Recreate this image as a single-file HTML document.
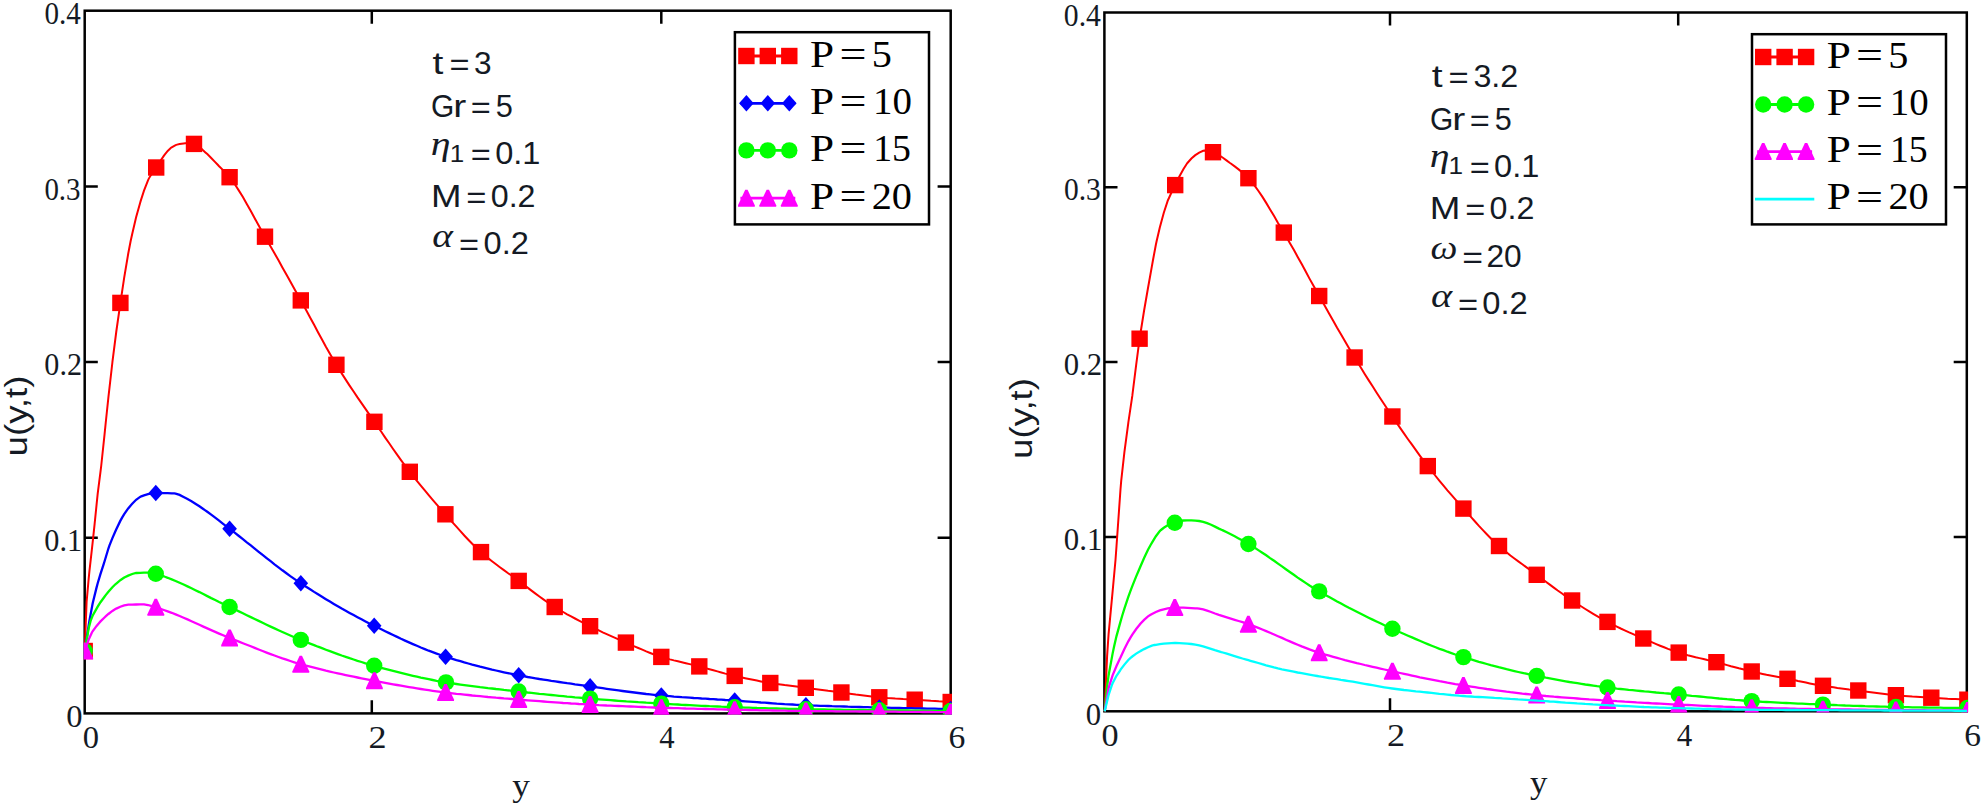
<!DOCTYPE html>
<html lang="en"><head><meta charset="utf-8"><title>u(y,t) velocity profiles</title>
<style>
html,body{margin:0;padding:0;background:#fff}
body{width:1982px;height:806px;overflow:hidden}
svg{display:block}
text{white-space:pre}
</style></head>
<body>
<svg width="1982" height="806" viewBox="0 0 1982 806">
<rect width="1982" height="806" fill="#fff"/>
<defs><clipPath id="cl"><rect x="83.45" y="9.45" width="868.5" height="705.2"/></clipPath><clipPath id="cr"><rect x="1103.15" y="11.25" width="864.9" height="701.3"/></clipPath></defs>
<rect x="84.7" y="10.7" width="866.0" height="702.7" fill="none" stroke="#000" stroke-width="2.5"/><path d="M371.8,713.4 v-13.1 M371.8,10.7 v13.1 M661.3,713.4 v-13.1 M661.3,10.7 v13.1 M84.7,537.7 h13.1 M950.7,537.7 h-13.1 M84.7,362.1 h13.1 M950.7,362.1 h-13.1 M84.7,186.6 h13.1 M950.7,186.6 h-13.1 " stroke="#000" stroke-width="2.5" fill="none"/>
<g clip-path="url(#cl)"><path d="M84.7,651.0 L86.6,602.0 L88.7,578.4 L89.4,571.4 L91.8,550.2 L92.6,542.8 L94.6,524.2 L96.6,504.4 L97.7,493.6 L100.5,471.6 L101.2,466.0 L104.5,434.8 L105.7,423.0 L108.4,397.4 L112.4,362.3 L112.4,362.1 L116.3,331.5 L120.3,303.6 L120.4,302.9 L124.2,277.6 L128.2,253.8 L130.6,241.3 L132.2,234.0 L136.1,217.3 L140.1,203.0 L140.7,200.9 L144.0,190.6 L148.0,180.3 L148.8,178.6 L151.9,173.5 L155.9,168.0 L156.2,167.5 L159.8,161.8 L163.8,155.9 L164.9,154.4 L167.7,150.9 L171.0,147.8 L171.7,147.3 L175.6,145.1 L177.1,144.6 L179.6,144.0 L183.6,143.4 L185.2,143.3 L187.5,143.3 L191.5,143.6 L194.0,143.9 L195.4,144.3 L199.4,146.8 L203.3,150.5 L205.4,152.4 L207.3,154.1 L211.2,158.0 L215.2,162.1 L217.5,164.5 L219.1,166.2 L223.1,170.1 L227.1,174.2 L229.6,177.2 L231.0,179.0 L235.0,184.5 L238.9,190.6 L242.9,197.1 L246.8,204.0 L250.8,211.1 L254.7,218.3 L258.7,225.5 L262.6,232.6 L265.0,236.7 L266.6,239.5 L270.6,246.4 L274.5,253.3 L278.5,260.3 L282.4,267.4 L286.4,274.5 L290.3,281.6 L294.3,288.7 L298.2,295.8 L300.8,300.4 L302.2,302.9 L306.1,310.1 L310.1,317.4 L314.1,324.8 L318.0,332.2 L322.0,339.5 L325.9,346.7 L329.9,353.7 L333.8,360.5 L336.4,364.8 L337.8,367.0 L341.7,373.4 L345.7,379.6 L349.6,385.6 L353.6,391.5 L357.5,397.4 L361.5,403.1 L365.5,408.9 L369.4,414.6 L373.4,420.3 L374.4,421.8 L377.3,426.1 L381.3,431.8 L385.2,437.6 L389.2,443.3 L393.1,449.0 L397.1,454.6 L401.0,460.1 L405.0,465.5 L409.0,470.7 L409.8,471.8 L412.9,475.8 L416.9,480.8 L420.8,485.6 L424.8,490.4 L428.7,495.1 L432.7,499.8 L436.6,504.3 L440.6,508.9 L444.5,513.3 L445.4,514.3 L448.5,517.8 L452.5,522.3 L456.4,526.7 L460.4,531.1 L464.3,535.5 L468.3,539.7 L472.2,543.7 L476.2,547.6 L480.1,551.3 L481.0,552.1 L484.1,554.8 L488.0,558.1 L492.0,561.2 L496.0,564.3 L499.9,567.2 L503.9,570.1 L507.8,573.0 L511.8,575.8 L515.7,578.7 L518.7,580.9 L519.7,581.6 L523.6,584.6 L527.6,587.6 L531.5,590.6 L535.5,593.6 L539.4,596.5 L543.4,599.4 L547.4,602.2 L551.3,604.8 L554.7,607.0 L555.3,607.4 L559.2,609.7 L563.2,612.0 L567.1,614.3 L571.1,616.4 L575.0,618.5 L579.0,620.6 L582.9,622.6 L586.9,624.6 L590.1,626.2 L590.9,626.6 L594.8,628.5 L598.8,630.4 L602.7,632.3 L606.7,634.1 L610.6,635.9 L614.6,637.7 L618.5,639.4 L622.5,641.1 L625.9,642.6 L626.4,642.8 L630.4,644.6 L634.4,646.3 L638.3,648.0 L642.3,649.7 L646.2,651.4 L650.2,653.0 L654.1,654.5 L658.1,655.9 L661.3,656.9 L662.0,657.1 L666.0,658.3 L669.9,659.4 L673.9,660.4 L677.9,661.3 L681.8,662.2 L685.8,663.2 L689.7,664.1 L693.7,665.0 L697.6,666.0 L699.3,666.4 L701.6,667.0 L705.5,668.1 L709.5,669.2 L713.4,670.3 L717.4,671.4 L721.3,672.5 L725.3,673.6 L729.3,674.6 L733.2,675.6 L734.7,675.9 L737.2,676.5 L741.1,677.3 L745.1,678.2 L749.0,679.0 L753.0,679.8 L756.9,680.6 L760.9,681.4 L764.8,682.1 L768.8,682.8 L770.3,683.0 L772.8,683.4 L776.7,684.0 L780.7,684.5 L784.6,685.1 L788.6,685.6 L792.5,686.1 L796.5,686.6 L800.4,687.1 L804.4,687.6 L805.8,687.8 L808.3,688.1 L812.3,688.7 L816.3,689.2 L820.2,689.7 L824.2,690.2 L828.1,690.8 L832.1,691.3 L836.0,691.8 L840.0,692.3 L841.4,692.5 L843.9,692.8 L847.9,693.4 L851.8,693.9 L855.8,694.5 L859.8,695.0 L863.7,695.5 L867.7,696.0 L871.6,696.5 L875.6,696.9 L879.3,697.3 L879.5,697.3 L883.5,697.6 L887.4,698.0 L891.4,698.2 L895.3,698.5 L899.3,698.7 L903.2,699.0 L907.2,699.2 L911.2,699.5 L914.7,699.7 L915.1,699.7 L919.1,700.0 L923.0,700.2 L927.0,700.5 L930.9,700.8 L934.9,701.0 L938.8,701.3 L942.8,701.5 L946.7,701.8 L950.7,702.0" stroke="#ff0000" stroke-width="2.0" fill="none"/><rect x="76.5" y="642.8" width="16.4" height="16.4" fill="#ff0000"/><rect x="112.2" y="294.7" width="16.4" height="16.4" fill="#ff0000"/><rect x="148.0" y="159.3" width="16.4" height="16.4" fill="#ff0000"/><rect x="185.8" y="135.7" width="16.4" height="16.4" fill="#ff0000"/><rect x="221.4" y="169.0" width="16.4" height="16.4" fill="#ff0000"/><rect x="256.8" y="228.5" width="16.4" height="16.4" fill="#ff0000"/><rect x="292.6" y="292.2" width="16.4" height="16.4" fill="#ff0000"/><rect x="328.2" y="356.6" width="16.4" height="16.4" fill="#ff0000"/><rect x="366.2" y="413.6" width="16.4" height="16.4" fill="#ff0000"/><rect x="401.6" y="463.6" width="16.4" height="16.4" fill="#ff0000"/><rect x="437.2" y="506.1" width="16.4" height="16.4" fill="#ff0000"/><rect x="472.8" y="543.9" width="16.4" height="16.4" fill="#ff0000"/><rect x="510.5" y="572.7" width="16.4" height="16.4" fill="#ff0000"/><rect x="546.5" y="598.8" width="16.4" height="16.4" fill="#ff0000"/><rect x="581.9" y="618.0" width="16.4" height="16.4" fill="#ff0000"/><rect x="617.7" y="634.4" width="16.4" height="16.4" fill="#ff0000"/><rect x="653.1" y="648.7" width="16.4" height="16.4" fill="#ff0000"/><rect x="691.1" y="658.2" width="16.4" height="16.4" fill="#ff0000"/><rect x="726.5" y="667.7" width="16.4" height="16.4" fill="#ff0000"/><rect x="762.1" y="674.8" width="16.4" height="16.4" fill="#ff0000"/><rect x="797.6" y="679.6" width="16.4" height="16.4" fill="#ff0000"/><rect x="833.2" y="684.3" width="16.4" height="16.4" fill="#ff0000"/><rect x="871.1" y="689.1" width="16.4" height="16.4" fill="#ff0000"/><rect x="906.5" y="691.5" width="16.4" height="16.4" fill="#ff0000"/><rect x="942.5" y="693.8" width="16.4" height="16.4" fill="#ff0000"/><path d="M84.7,651.0 L88.7,625.3 L89.4,620.9 L92.6,603.8 L93.0,602.0 L96.6,587.4 L97.7,583.2 L100.5,573.9 L103.6,564.3 L104.5,561.5 L108.4,548.5 L109.5,545.4 L112.4,538.1 L115.4,531.3 L116.3,529.2 L120.3,520.9 L122.4,517.1 L124.2,514.1 L128.2,508.4 L130.7,505.4 L132.2,503.8 L136.1,499.8 L140.1,496.9 L141.3,496.3 L144.0,495.3 L148.0,494.1 L151.9,493.3 L155.8,493.0 L155.9,493.0 L159.8,493.0 L163.8,493.1 L167.7,493.2 L171.7,493.3 L174.3,493.4 L175.6,493.6 L179.6,494.9 L183.6,497.0 L186.1,498.3 L187.5,499.0 L191.5,501.2 L195.4,503.7 L199.4,506.3 L203.3,509.0 L204.9,510.1 L207.3,511.8 L211.2,514.6 L215.2,517.6 L219.1,520.7 L223.1,523.8 L227.1,526.8 L229.6,528.8 L231.0,529.9 L235.0,532.9 L238.9,536.0 L242.9,539.1 L246.8,542.3 L250.8,545.4 L254.7,548.6 L258.7,551.8 L262.6,554.9 L266.6,558.1 L270.6,561.2 L274.5,564.3 L278.5,567.3 L282.4,570.3 L286.4,573.2 L290.3,576.1 L294.3,578.9 L298.2,581.6 L300.8,583.3 L302.2,584.2 L306.1,586.8 L310.1,589.3 L314.1,591.9 L318.0,594.3 L322.0,596.8 L325.9,599.2 L329.9,601.6 L333.8,603.9 L337.8,606.2 L341.7,608.5 L345.7,610.7 L349.6,612.9 L353.6,615.1 L357.5,617.2 L361.5,619.3 L365.5,621.4 L369.4,623.4 L373.4,625.4 L374.2,625.8 L377.3,627.3 L381.3,629.3 L385.2,631.2 L389.2,633.1 L393.1,635.0 L397.1,636.9 L401.0,638.8 L405.0,640.6 L409.0,642.4 L412.9,644.1 L416.9,645.8 L420.8,647.5 L424.8,649.1 L428.7,650.7 L432.7,652.2 L436.6,653.6 L440.6,655.0 L444.5,656.4 L445.6,656.7 L448.5,657.6 L452.5,658.9 L456.4,660.1 L460.4,661.2 L464.3,662.4 L468.3,663.5 L472.2,664.6 L476.2,665.6 L480.1,666.7 L484.1,667.7 L488.0,668.6 L492.0,669.6 L496.0,670.5 L499.9,671.4 L503.9,672.3 L507.8,673.1 L511.8,673.9 L515.7,674.7 L518.7,675.3 L519.7,675.5 L523.6,676.2 L527.6,677.0 L531.5,677.6 L535.5,678.3 L539.4,679.0 L543.4,679.6 L547.4,680.2 L551.3,680.9 L555.3,681.4 L559.2,682.0 L563.2,682.6 L567.1,683.2 L571.1,683.7 L575.0,684.3 L579.0,684.8 L582.9,685.4 L586.9,686.0 L590.1,686.4 L590.9,686.5 L594.8,687.1 L598.8,687.6 L602.7,688.2 L606.7,688.8 L610.6,689.3 L614.6,689.9 L618.5,690.4 L622.5,691.0 L626.4,691.5 L630.4,692.0 L634.4,692.5 L638.3,693.0 L642.3,693.5 L646.2,694.0 L650.2,694.4 L654.1,694.8 L658.1,695.2 L661.3,695.5 L662.0,695.6 L666.0,695.9 L669.9,696.2 L673.9,696.6 L677.9,696.9 L681.8,697.2 L685.8,697.4 L689.7,697.7 L693.7,698.0 L697.6,698.2 L701.6,698.5 L705.5,698.7 L709.5,699.0 L713.4,699.2 L717.4,699.5 L721.3,699.7 L725.3,700.0 L729.3,700.2 L733.2,700.5 L734.7,700.6 L737.2,700.8 L741.1,701.0 L745.1,701.3 L749.0,701.6 L753.0,701.9 L756.9,702.2 L760.9,702.5 L764.8,702.7 L768.8,703.0 L772.8,703.3 L776.7,703.6 L780.7,703.8 L784.6,704.1 L788.6,704.3 L792.5,704.5 L796.5,704.8 L800.4,705.0 L804.4,705.1 L805.9,705.2 L808.3,705.3 L812.3,705.5 L816.3,705.6 L820.2,705.8 L824.2,705.9 L828.1,706.0 L832.1,706.2 L836.0,706.3 L840.0,706.4 L843.9,706.5 L847.9,706.7 L851.8,706.8 L855.8,706.9 L859.8,707.0 L863.7,707.1 L867.7,707.2 L871.6,707.3 L875.6,707.4 L879.3,707.5 L879.5,707.5 L883.5,707.6 L887.4,707.7 L891.4,707.8 L895.3,707.9 L899.3,708.0 L903.2,708.1 L907.2,708.2 L911.2,708.2 L915.1,708.3 L919.1,708.4 L923.0,708.5 L927.0,708.6 L930.9,708.7 L934.9,708.7 L938.8,708.8 L942.8,708.9 L946.7,708.9 L950.7,709.0" stroke="#0000ff" stroke-width="2.3" fill="none"/><path d="M77.4,651.0 L84.7,642.7 L92.0,651.0 L84.7,659.3Z" fill="#0000ff"/><path d="M148.5,493.0 L155.8,484.7 L163.1,493.0 L155.8,501.3Z" fill="#0000ff"/><path d="M222.3,528.8 L229.6,520.5 L236.9,528.8 L229.6,537.1Z" fill="#0000ff"/><path d="M293.5,583.3 L300.8,575.0 L308.1,583.3 L300.8,591.6Z" fill="#0000ff"/><path d="M366.9,625.8 L374.2,617.5 L381.5,625.8 L374.2,634.1Z" fill="#0000ff"/><path d="M438.3,656.7 L445.6,648.4 L452.9,656.7 L445.6,665.0Z" fill="#0000ff"/><path d="M511.4,675.3 L518.7,667.0 L526.0,675.3 L518.7,683.6Z" fill="#0000ff"/><path d="M582.8,686.4 L590.1,678.1 L597.4,686.4 L590.1,694.7Z" fill="#0000ff"/><path d="M654.0,695.5 L661.3,687.2 L668.6,695.5 L661.3,703.8Z" fill="#0000ff"/><path d="M727.4,700.6 L734.7,692.3 L742.0,700.6 L734.7,708.9Z" fill="#0000ff"/><path d="M798.6,705.2 L805.9,696.9 L813.2,705.2 L805.9,713.5Z" fill="#0000ff"/><path d="M872.0,707.5 L879.3,699.2 L886.6,707.5 L879.3,715.8Z" fill="#0000ff"/><path d="M943.4,709.0 L950.7,700.7 L958.0,709.0 L950.7,717.3Z" fill="#0000ff"/><path d="M84.7,651.0 L88.7,628.3 L90.6,620.9 L92.6,615.8 L96.6,608.6 L97.7,606.7 L100.5,602.2 L104.5,596.7 L105.9,594.9 L108.4,591.8 L112.4,587.3 L115.4,584.3 L116.3,583.5 L120.3,580.2 L124.2,577.6 L124.8,577.3 L128.2,575.6 L132.2,574.0 L136.1,573.0 L136.6,573.0 L140.1,572.8 L144.0,572.6 L146.0,572.6 L148.0,572.7 L151.9,573.1 L155.8,573.8 L155.9,573.8 L159.8,574.9 L163.8,576.3 L165.0,576.8 L167.7,577.8 L171.7,579.4 L175.6,581.0 L179.6,582.8 L183.6,584.5 L187.5,586.4 L191.5,588.3 L195.4,590.2 L199.4,592.1 L203.3,594.1 L207.3,596.1 L211.2,598.1 L215.2,600.0 L219.1,602.0 L223.1,603.9 L227.1,605.8 L229.6,607.0 L231.0,607.7 L235.0,609.5 L238.9,611.4 L242.9,613.3 L246.8,615.2 L250.8,617.1 L254.7,619.0 L258.7,620.9 L262.6,622.8 L266.6,624.7 L270.6,626.6 L274.5,628.4 L278.5,630.2 L282.4,632.0 L286.4,633.8 L290.3,635.5 L294.3,637.2 L298.2,638.9 L300.8,639.9 L302.2,640.5 L306.1,642.0 L310.1,643.6 L314.1,645.1 L318.0,646.7 L322.0,648.2 L325.9,649.7 L329.9,651.2 L333.8,652.6 L337.8,654.1 L341.7,655.5 L345.7,656.8 L349.6,658.2 L353.6,659.5 L357.5,660.8 L361.5,662.0 L365.5,663.3 L369.4,664.4 L373.4,665.6 L374.2,665.8 L377.3,666.7 L381.3,667.8 L385.2,668.8 L389.2,669.9 L393.1,670.9 L397.1,671.9 L401.0,672.9 L405.0,673.9 L409.0,674.9 L412.9,675.8 L416.9,676.7 L420.8,677.6 L424.8,678.4 L428.7,679.2 L432.7,680.0 L436.6,680.8 L440.6,681.5 L444.5,682.2 L446.0,682.4 L448.5,682.8 L452.5,683.4 L456.4,684.0 L460.4,684.6 L464.3,685.1 L468.3,685.7 L472.2,686.2 L476.2,686.7 L480.1,687.2 L484.1,687.6 L488.0,688.1 L492.0,688.5 L496.0,689.0 L499.9,689.4 L503.9,689.9 L507.8,690.3 L511.8,690.7 L515.7,691.2 L518.7,691.5 L519.7,691.6 L523.6,692.0 L527.6,692.5 L531.5,692.9 L535.5,693.3 L539.4,693.8 L543.4,694.2 L547.4,694.6 L551.3,695.0 L555.3,695.4 L559.2,695.8 L563.2,696.2 L567.1,696.6 L571.1,696.9 L575.0,697.3 L579.0,697.6 L582.9,698.0 L586.9,698.3 L590.1,698.6 L590.9,698.7 L594.8,699.0 L598.8,699.3 L602.7,699.6 L606.7,699.9 L610.6,700.2 L614.6,700.5 L618.5,700.8 L622.5,701.1 L626.4,701.4 L630.4,701.6 L634.4,701.9 L638.3,702.2 L642.3,702.4 L646.2,702.7 L650.2,702.9 L654.1,703.2 L658.1,703.4 L661.3,703.6 L662.0,703.6 L666.0,703.9 L669.9,704.1 L673.9,704.3 L677.9,704.5 L681.8,704.8 L685.8,705.0 L689.7,705.2 L693.7,705.4 L697.6,705.6 L701.6,705.8 L705.5,706.0 L709.5,706.2 L713.4,706.3 L717.4,706.5 L721.3,706.7 L725.3,706.8 L729.3,707.0 L733.2,707.1 L734.7,707.2 L737.2,707.3 L741.1,707.4 L745.1,707.6 L749.0,707.7 L753.0,707.8 L756.9,708.0 L760.9,708.1 L764.8,708.2 L768.8,708.3 L772.8,708.4 L776.7,708.5 L780.7,708.6 L784.6,708.7 L788.6,708.8 L792.5,708.9 L796.5,709.0 L800.4,709.1 L804.4,709.2 L805.9,709.2 L808.3,709.2 L812.3,709.3 L816.3,709.4 L820.2,709.4 L824.2,709.5 L828.1,709.6 L832.1,709.6 L836.0,709.7 L840.0,709.7 L843.9,709.8 L847.9,709.8 L851.8,709.9 L855.8,709.9 L859.8,710.0 L863.7,710.0 L867.7,710.1 L871.6,710.1 L875.6,710.2 L879.3,710.2 L879.5,710.2 L883.5,710.3 L887.4,710.3 L891.4,710.3 L895.3,710.4 L899.3,710.4 L903.2,710.5 L907.2,710.5 L911.2,710.6 L915.1,710.6 L919.1,710.7 L923.0,710.7 L927.0,710.8 L930.9,710.8 L934.9,710.8 L938.8,710.9 L942.8,710.9 L946.7,711.0 L950.7,711.0" stroke="#00ff00" stroke-width="2.3" fill="none"/><circle cx="84.7" cy="651.0" r="8.2" fill="#00ff00"/><circle cx="155.8" cy="573.8" r="8.2" fill="#00ff00"/><circle cx="229.6" cy="607.0" r="8.2" fill="#00ff00"/><circle cx="300.8" cy="639.9" r="8.2" fill="#00ff00"/><circle cx="374.2" cy="665.8" r="8.2" fill="#00ff00"/><circle cx="446.0" cy="682.4" r="8.2" fill="#00ff00"/><circle cx="518.7" cy="691.5" r="8.2" fill="#00ff00"/><circle cx="590.1" cy="698.6" r="8.2" fill="#00ff00"/><circle cx="661.3" cy="703.6" r="8.2" fill="#00ff00"/><circle cx="734.7" cy="707.2" r="8.2" fill="#00ff00"/><circle cx="805.9" cy="709.2" r="8.2" fill="#00ff00"/><circle cx="879.3" cy="710.2" r="8.2" fill="#00ff00"/><circle cx="950.7" cy="711.0" r="8.2" fill="#00ff00"/><path d="M84.7,651.0 L88.7,639.5 L91.8,632.7 L92.6,631.3 L96.6,625.9 L98.9,623.2 L100.5,621.4 L104.5,617.5 L105.9,616.2 L108.4,614.0 L112.4,610.9 L115.4,609.1 L116.3,608.6 L120.3,606.7 L124.2,605.3 L127.1,604.8 L128.2,604.7 L132.2,604.6 L136.1,604.5 L140.1,604.4 L143.7,604.4 L144.0,604.4 L148.0,605.0 L151.9,606.2 L155.8,607.4 L155.9,607.4 L159.8,608.6 L163.8,610.0 L167.7,611.4 L171.7,612.8 L175.6,614.4 L179.6,616.0 L183.6,617.7 L187.5,619.4 L191.5,621.2 L195.4,623.0 L199.4,624.8 L203.3,626.6 L207.3,628.4 L211.2,630.1 L215.2,631.9 L219.1,633.6 L223.1,635.3 L227.1,636.9 L229.6,637.9 L231.0,638.5 L235.0,640.0 L238.9,641.6 L242.9,643.2 L246.8,644.7 L250.8,646.3 L254.7,647.9 L258.7,649.5 L262.6,651.0 L266.6,652.6 L270.6,654.1 L274.5,655.5 L278.5,657.0 L282.4,658.4 L286.4,659.7 L290.3,661.0 L294.3,662.3 L298.2,663.5 L300.8,664.2 L302.2,664.6 L306.1,665.7 L310.1,666.7 L314.1,667.7 L318.0,668.7 L322.0,669.7 L325.9,670.7 L329.9,671.6 L333.8,672.5 L337.8,673.4 L341.7,674.2 L345.7,675.1 L349.6,675.9 L353.6,676.7 L357.5,677.5 L361.5,678.3 L365.5,679.1 L369.4,679.8 L373.4,680.6 L374.4,680.8 L377.3,681.4 L381.3,682.1 L385.2,682.8 L389.2,683.6 L393.1,684.3 L397.1,685.0 L401.0,685.7 L405.0,686.4 L409.0,687.1 L412.9,687.7 L416.9,688.4 L420.8,689.0 L424.8,689.6 L428.7,690.2 L432.7,690.8 L436.6,691.3 L440.6,691.9 L444.5,692.4 L445.6,692.5 L448.5,692.9 L452.5,693.3 L456.4,693.8 L460.4,694.2 L464.3,694.6 L468.3,695.0 L472.2,695.5 L476.2,695.8 L480.1,696.2 L484.1,696.6 L488.0,697.0 L492.0,697.3 L496.0,697.7 L499.9,698.0 L503.9,698.4 L507.8,698.7 L511.8,699.0 L515.7,699.4 L518.7,699.6 L519.7,699.7 L523.6,700.0 L527.6,700.3 L531.5,700.6 L535.5,700.9 L539.4,701.2 L543.4,701.5 L547.4,701.8 L551.3,702.1 L555.3,702.4 L559.2,702.7 L563.2,703.0 L567.1,703.2 L571.1,703.5 L575.0,703.7 L579.0,704.0 L582.9,704.2 L586.9,704.4 L590.1,704.6 L590.9,704.6 L594.8,704.8 L598.8,705.1 L602.7,705.3 L606.7,705.5 L610.6,705.6 L614.6,705.8 L618.5,706.0 L622.5,706.2 L626.4,706.4 L630.4,706.5 L634.4,706.7 L638.3,706.9 L642.3,707.0 L646.2,707.2 L650.2,707.3 L654.1,707.5 L658.1,707.6 L661.3,707.7 L662.0,707.7 L666.0,707.9 L669.9,708.0 L673.9,708.1 L677.9,708.2 L681.8,708.3 L685.8,708.5 L689.7,708.6 L693.7,708.7 L697.6,708.8 L701.6,708.9 L705.5,709.0 L709.5,709.1 L713.4,709.2 L717.4,709.3 L721.3,709.4 L725.3,709.5 L729.3,709.6 L733.2,709.7 L734.7,709.7 L737.2,709.8 L741.1,709.8 L745.1,709.9 L749.0,710.0 L753.0,710.1 L756.9,710.2 L760.9,710.3 L764.8,710.3 L768.8,710.4 L772.8,710.5 L776.7,710.6 L780.7,710.6 L784.6,710.7 L788.6,710.8 L792.5,710.8 L796.5,710.9 L800.4,710.9 L804.4,711.0 L805.9,711.0 L808.3,711.0 L812.3,711.1 L816.3,711.1 L820.2,711.1 L824.2,711.2 L828.1,711.2 L832.1,711.2 L836.0,711.3 L840.0,711.3 L843.9,711.3 L847.9,711.4 L851.8,711.4 L855.8,711.4 L859.8,711.5 L863.7,711.5 L867.7,711.5 L871.6,711.5 L875.6,711.6 L879.3,711.6 L879.5,711.6 L883.5,711.6 L887.4,711.7 L891.4,711.7 L895.3,711.7 L899.3,711.8 L903.2,711.8 L907.2,711.8 L911.2,711.9 L915.1,711.9 L919.1,711.9 L923.0,712.0 L927.0,712.0 L930.9,712.0 L934.9,712.1 L938.8,712.1 L942.8,712.1 L946.7,712.2 L950.7,712.2" stroke="#ff00ff" stroke-width="2.3" fill="none"/><path d="M83.5,642.5 L85.9,642.5 L93.1,658.0 L93.1,659.5 L76.3,659.5 L76.3,658.0Z" fill="#ff00ff"/><path d="M154.6,598.7 L157.0,598.7 L164.2,614.2 L164.2,615.7 L147.4,615.7 L147.4,614.2Z" fill="#ff00ff"/><path d="M228.4,629.4 L230.8,629.4 L238.0,644.9 L238.0,646.4 L221.2,646.4 L221.2,644.9Z" fill="#ff00ff"/><path d="M299.6,655.7 L302.0,655.7 L309.2,671.2 L309.2,672.7 L292.4,672.7 L292.4,671.2Z" fill="#ff00ff"/><path d="M373.2,672.3 L375.6,672.3 L382.8,687.8 L382.8,689.3 L366.0,689.3 L366.0,687.8Z" fill="#ff00ff"/><path d="M444.4,684.0 L446.8,684.0 L454.0,699.5 L454.0,701.0 L437.2,701.0 L437.2,699.5Z" fill="#ff00ff"/><path d="M517.5,691.1 L519.9,691.1 L527.1,706.6 L527.1,708.1 L510.3,708.1 L510.3,706.6Z" fill="#ff00ff"/><path d="M588.9,696.1 L591.3,696.1 L598.5,711.6 L598.5,713.1 L581.7,713.1 L581.7,711.6Z" fill="#ff00ff"/><path d="M660.1,699.2 L662.5,699.2 L669.7,714.7 L669.7,716.2 L652.9,716.2 L652.9,714.7Z" fill="#ff00ff"/><path d="M733.5,701.2 L735.9,701.2 L743.1,716.7 L743.1,718.2 L726.3,718.2 L726.3,716.7Z" fill="#ff00ff"/><path d="M804.7,702.5 L807.1,702.5 L814.3,718.0 L814.3,719.5 L797.5,719.5 L797.5,718.0Z" fill="#ff00ff"/><path d="M878.1,703.1 L880.5,703.1 L887.7,718.6 L887.7,720.1 L870.9,720.1 L870.9,718.6Z" fill="#ff00ff"/><path d="M949.5,703.7 L951.9,703.7 L959.1,719.2 L959.1,720.7 L942.3,720.7 L942.3,719.2Z" fill="#ff00ff"/></g>
<rect x="1104.4" y="12.5" width="862.4" height="698.8" fill="none" stroke="#000" stroke-width="2.5"/><path d="M1390.0,711.3 v-13.1 M1390.0,12.5 v13.1 M1678.2,711.3 v-13.1 M1678.2,12.5 v13.1 M1104.4,536.9 h13.1 M1966.8,536.9 h-13.1 M1104.4,362.1 h13.1 M1966.8,362.1 h-13.1 M1104.4,187.2 h13.1 M1966.8,187.2 h-13.1 " stroke="#000" stroke-width="2.5" fill="none"/>
<g clip-path="url(#cr)"><path d="M1104.7,711.3 L1107.1,656.1 L1108.6,633.8 L1112.6,591.7 L1115.5,560.0 L1116.5,546.2 L1120.5,489.3 L1121.2,480.9 L1124.4,452.1 L1128.3,423.0 L1128.3,422.7 L1132.3,395.9 L1132.4,395.0 L1136.2,364.7 L1139.6,338.7 L1140.2,335.0 L1144.1,310.5 L1148.0,288.0 L1148.9,283.0 L1152.0,265.6 L1153.0,260.0 L1155.9,244.5 L1156.6,241.3 L1159.8,227.5 L1163.8,212.8 L1167.7,200.9 L1167.7,200.8 L1171.7,192.0 L1175.2,185.1 L1175.6,184.3 L1179.5,176.3 L1183.5,168.9 L1187.0,163.5 L1187.4,163.0 L1191.4,158.5 L1195.0,155.4 L1195.3,155.2 L1199.2,152.6 L1203.2,150.8 L1204.8,150.6 L1207.1,150.8 L1211.1,151.7 L1213.0,152.2 L1215.0,152.9 L1218.9,155.0 L1222.9,157.7 L1226.8,160.6 L1230.0,163.0 L1230.8,163.5 L1234.7,166.4 L1238.6,169.4 L1242.6,172.7 L1246.5,176.3 L1248.4,178.2 L1250.5,180.4 L1254.4,185.3 L1258.3,190.7 L1262.3,196.6 L1266.2,202.9 L1270.1,209.4 L1274.1,216.1 L1278.0,222.9 L1282.0,229.5 L1283.8,232.6 L1285.9,236.1 L1289.8,242.9 L1293.8,249.8 L1297.7,256.9 L1301.7,264.1 L1305.6,271.3 L1309.5,278.6 L1313.5,285.8 L1317.4,292.8 L1319.2,296.0 L1321.4,299.8 L1325.3,306.8 L1329.2,313.8 L1333.2,320.7 L1337.1,327.7 L1341.1,334.5 L1345.0,341.3 L1348.9,348.0 L1352.9,354.6 L1354.6,357.5 L1356.8,361.1 L1360.8,367.5 L1364.7,373.9 L1368.6,380.1 L1372.6,386.3 L1376.5,392.5 L1380.4,398.5 L1384.4,404.5 L1388.3,410.5 L1392.3,416.3 L1392.4,416.5 L1396.2,422.1 L1400.1,427.9 L1404.1,433.6 L1408.0,439.2 L1412.0,444.7 L1415.9,450.2 L1419.8,455.6 L1423.8,460.9 L1427.7,466.0 L1427.8,466.1 L1431.7,471.0 L1435.6,476.0 L1439.5,480.8 L1443.5,485.6 L1447.4,490.3 L1451.4,494.9 L1455.3,499.4 L1459.2,503.9 L1463.2,508.3 L1463.4,508.6 L1467.1,512.8 L1471.1,517.2 L1475.0,521.5 L1478.9,525.9 L1482.9,530.1 L1486.8,534.2 L1490.7,538.2 L1494.7,542.0 L1498.6,545.7 L1499.0,546.0 L1502.6,549.1 L1506.5,552.3 L1510.4,555.5 L1514.4,558.5 L1518.3,561.4 L1522.3,564.3 L1526.2,567.1 L1530.1,570.0 L1534.1,572.9 L1536.7,574.8 L1538.0,575.8 L1542.0,578.7 L1545.9,581.7 L1549.8,584.6 L1553.8,587.6 L1557.7,590.5 L1561.7,593.3 L1565.6,596.1 L1569.5,598.8 L1572.1,600.5 L1573.5,601.4 L1577.4,604.0 L1581.4,606.5 L1585.3,609.0 L1589.2,611.4 L1593.2,613.8 L1597.1,616.1 L1601.0,618.4 L1605.0,620.6 L1607.5,621.9 L1608.9,622.6 L1612.9,624.6 L1616.8,626.6 L1620.7,628.5 L1624.7,630.3 L1628.6,632.1 L1632.6,633.8 L1636.5,635.6 L1640.4,637.3 L1643.3,638.5 L1644.4,639.0 L1648.3,640.7 L1652.3,642.4 L1656.2,644.1 L1660.1,645.7 L1664.1,647.3 L1668.0,648.9 L1672.0,650.3 L1675.9,651.7 L1678.7,652.6 L1679.8,652.9 L1683.8,654.1 L1687.7,655.2 L1691.7,656.2 L1695.6,657.2 L1699.5,658.1 L1703.5,659.0 L1707.4,660.0 L1711.3,660.9 L1715.3,661.9 L1716.4,662.2 L1719.2,662.9 L1723.2,664.0 L1727.1,665.1 L1731.0,666.2 L1735.0,667.2 L1738.9,668.3 L1742.9,669.3 L1746.8,670.3 L1750.7,671.3 L1751.7,671.5 L1754.7,672.2 L1758.6,673.0 L1762.6,673.9 L1766.5,674.7 L1770.4,675.4 L1774.4,676.2 L1778.3,677.0 L1782.3,677.8 L1786.2,678.5 L1787.5,678.8 L1790.1,679.3 L1794.1,680.1 L1798.0,681.0 L1802.0,681.8 L1805.9,682.6 L1809.8,683.4 L1813.8,684.2 L1817.7,684.9 L1821.6,685.6 L1823.0,685.8 L1825.6,686.2 L1829.5,686.8 L1833.5,687.3 L1837.4,687.9 L1841.3,688.4 L1845.3,688.9 L1849.2,689.4 L1853.2,689.8 L1857.1,690.3 L1858.3,690.5 L1861.0,690.9 L1865.0,691.4 L1868.9,691.9 L1872.9,692.5 L1876.8,693.0 L1880.7,693.5 L1884.7,694.0 L1888.6,694.5 L1892.6,694.9 L1895.9,695.2 L1896.5,695.3 L1900.4,695.6 L1904.4,695.9 L1908.3,696.2 L1912.3,696.5 L1916.2,696.7 L1920.1,697.0 L1924.1,697.3 L1928.0,697.5 L1931.3,697.7 L1931.9,697.7 L1935.9,698.0 L1939.8,698.2 L1943.8,698.4 L1947.7,698.7 L1951.6,698.9 L1955.6,699.1 L1959.5,699.3 L1963.5,699.5 L1967.4,699.7" stroke="#ff0000" stroke-width="2.0" fill="none"/><rect x="1131.4" y="330.5" width="16.4" height="16.4" fill="#ff0000"/><rect x="1167.0" y="176.9" width="16.4" height="16.4" fill="#ff0000"/><rect x="1204.8" y="144.0" width="16.4" height="16.4" fill="#ff0000"/><rect x="1240.2" y="170.0" width="16.4" height="16.4" fill="#ff0000"/><rect x="1275.6" y="224.4" width="16.4" height="16.4" fill="#ff0000"/><rect x="1311.0" y="287.8" width="16.4" height="16.4" fill="#ff0000"/><rect x="1346.4" y="349.3" width="16.4" height="16.4" fill="#ff0000"/><rect x="1384.2" y="408.3" width="16.4" height="16.4" fill="#ff0000"/><rect x="1419.6" y="457.9" width="16.4" height="16.4" fill="#ff0000"/><rect x="1455.2" y="500.4" width="16.4" height="16.4" fill="#ff0000"/><rect x="1490.8" y="537.8" width="16.4" height="16.4" fill="#ff0000"/><rect x="1528.5" y="566.6" width="16.4" height="16.4" fill="#ff0000"/><rect x="1563.9" y="592.3" width="16.4" height="16.4" fill="#ff0000"/><rect x="1599.3" y="613.7" width="16.4" height="16.4" fill="#ff0000"/><rect x="1635.1" y="630.3" width="16.4" height="16.4" fill="#ff0000"/><rect x="1670.5" y="644.4" width="16.4" height="16.4" fill="#ff0000"/><rect x="1708.2" y="654.0" width="16.4" height="16.4" fill="#ff0000"/><rect x="1743.5" y="663.3" width="16.4" height="16.4" fill="#ff0000"/><rect x="1779.3" y="670.6" width="16.4" height="16.4" fill="#ff0000"/><rect x="1814.8" y="677.6" width="16.4" height="16.4" fill="#ff0000"/><rect x="1850.1" y="682.3" width="16.4" height="16.4" fill="#ff0000"/><rect x="1887.7" y="687.0" width="16.4" height="16.4" fill="#ff0000"/><rect x="1923.1" y="689.5" width="16.4" height="16.4" fill="#ff0000"/><rect x="1959.2" y="691.5" width="16.4" height="16.4" fill="#ff0000"/><path d="M1104.7,711.3 L1107.1,686.4 L1108.6,675.4 L1112.6,653.6 L1114.2,646.0 L1116.5,636.1 L1120.5,621.6 L1122.2,615.7 L1124.4,608.6 L1128.3,596.9 L1130.3,591.4 L1132.3,586.2 L1136.2,576.4 L1138.4,571.2 L1140.2,567.0 L1144.1,558.0 L1145.5,555.0 L1148.0,549.8 L1150.6,545.0 L1152.0,542.7 L1155.9,536.2 L1159.8,531.1 L1161.0,530.0 L1163.8,527.8 L1167.7,525.3 L1171.7,523.3 L1174.8,522.3 L1175.6,522.1 L1179.5,521.2 L1183.5,520.5 L1187.0,520.3 L1187.4,520.3 L1191.4,520.4 L1195.3,520.7 L1199.0,521.0 L1199.2,521.0 L1203.2,521.8 L1207.1,523.1 L1211.1,524.7 L1215.0,526.6 L1218.9,528.6 L1222.0,530.0 L1222.9,530.4 L1226.8,532.3 L1230.8,534.2 L1234.7,536.3 L1238.6,538.4 L1242.6,540.6 L1246.5,542.9 L1248.4,544.0 L1250.5,545.2 L1254.4,547.6 L1258.3,550.1 L1262.3,552.7 L1266.2,555.3 L1270.1,558.1 L1274.1,560.8 L1278.0,563.6 L1282.0,566.4 L1285.9,569.2 L1289.8,572.0 L1293.8,574.8 L1297.7,577.6 L1301.7,580.3 L1305.6,582.9 L1309.5,585.5 L1313.5,588.0 L1317.4,590.4 L1319.2,591.4 L1321.4,592.6 L1325.3,594.9 L1329.2,597.1 L1333.2,599.3 L1337.1,601.5 L1341.1,603.6 L1345.0,605.7 L1348.9,607.8 L1352.9,609.8 L1356.8,611.8 L1360.8,613.8 L1364.7,615.8 L1368.6,617.7 L1372.6,619.6 L1376.5,621.5 L1380.4,623.3 L1384.4,625.2 L1388.3,627.0 L1392.3,628.7 L1392.4,628.8 L1396.2,630.5 L1400.1,632.3 L1404.1,634.0 L1408.0,635.7 L1412.0,637.4 L1415.9,639.1 L1419.8,640.8 L1423.8,642.5 L1427.7,644.1 L1431.7,645.7 L1435.6,647.2 L1439.5,648.8 L1443.5,650.2 L1447.4,651.7 L1451.4,653.1 L1455.3,654.5 L1459.2,655.8 L1463.2,657.0 L1463.4,657.1 L1467.1,658.2 L1471.1,659.4 L1475.0,660.6 L1478.9,661.8 L1482.9,662.9 L1486.8,664.0 L1490.7,665.1 L1494.7,666.1 L1498.6,667.2 L1502.6,668.2 L1506.5,669.2 L1510.4,670.1 L1514.4,671.1 L1518.3,672.0 L1522.3,672.9 L1526.2,673.7 L1530.1,674.6 L1534.1,675.4 L1536.7,675.9 L1538.0,676.2 L1542.0,676.9 L1545.9,677.7 L1549.8,678.4 L1553.8,679.2 L1557.7,679.9 L1561.7,680.6 L1565.6,681.3 L1569.5,682.0 L1573.5,682.6 L1577.4,683.2 L1581.4,683.9 L1585.3,684.5 L1589.2,685.0 L1593.2,685.6 L1597.1,686.2 L1601.0,686.7 L1605.0,687.2 L1607.5,687.5 L1608.9,687.7 L1612.9,688.1 L1616.8,688.6 L1620.7,689.0 L1624.7,689.4 L1628.6,689.9 L1632.6,690.2 L1636.5,690.6 L1640.4,691.0 L1644.4,691.4 L1648.3,691.7 L1652.3,692.1 L1656.2,692.5 L1660.1,692.8 L1664.1,693.2 L1668.0,693.5 L1672.0,693.9 L1675.9,694.2 L1678.7,694.5 L1679.8,694.6 L1683.8,695.0 L1687.7,695.4 L1691.7,695.8 L1695.6,696.1 L1699.5,696.5 L1703.5,696.9 L1707.4,697.3 L1711.3,697.7 L1715.3,698.1 L1719.2,698.5 L1723.2,698.8 L1727.1,699.2 L1731.0,699.5 L1735.0,699.9 L1738.9,700.2 L1742.9,700.5 L1746.8,700.8 L1750.7,701.0 L1751.7,701.1 L1754.7,701.3 L1758.6,701.5 L1762.6,701.8 L1766.5,702.0 L1770.4,702.2 L1774.4,702.4 L1778.3,702.6 L1782.3,702.8 L1786.2,703.0 L1790.1,703.2 L1794.1,703.4 L1798.0,703.6 L1802.0,703.7 L1805.9,703.9 L1809.8,704.1 L1813.8,704.2 L1817.7,704.4 L1821.6,704.6 L1822.9,704.6 L1825.6,704.7 L1829.5,704.9 L1833.5,705.0 L1837.4,705.2 L1841.3,705.3 L1845.3,705.5 L1849.2,705.6 L1853.2,705.8 L1857.1,705.9 L1861.0,706.0 L1865.0,706.2 L1868.9,706.3 L1872.9,706.4 L1876.8,706.5 L1880.7,706.6 L1884.7,706.7 L1888.6,706.8 L1892.6,706.9 L1895.9,707.0 L1896.5,707.0 L1900.4,707.1 L1904.4,707.2 L1908.3,707.2 L1912.3,707.3 L1916.2,707.4 L1920.1,707.4 L1924.1,707.5 L1928.0,707.6 L1931.9,707.6 L1935.9,707.7 L1939.8,707.7 L1943.8,707.8 L1947.7,707.8 L1951.6,707.9 L1955.6,707.9 L1959.5,708.0 L1963.5,708.0 L1967.4,708.0" stroke="#00ff00" stroke-width="2.3" fill="none"/><circle cx="1174.8" cy="522.7" r="8.2" fill="#00ff00"/><circle cx="1248.4" cy="544.0" r="8.2" fill="#00ff00"/><circle cx="1319.2" cy="591.4" r="8.2" fill="#00ff00"/><circle cx="1392.4" cy="628.8" r="8.2" fill="#00ff00"/><circle cx="1463.4" cy="657.1" r="8.2" fill="#00ff00"/><circle cx="1536.7" cy="675.9" r="8.2" fill="#00ff00"/><circle cx="1607.5" cy="687.5" r="8.2" fill="#00ff00"/><circle cx="1678.7" cy="694.5" r="8.2" fill="#00ff00"/><circle cx="1751.7" cy="701.1" r="8.2" fill="#00ff00"/><circle cx="1822.9" cy="704.6" r="8.2" fill="#00ff00"/><circle cx="1895.9" cy="707.0" r="8.2" fill="#00ff00"/><circle cx="1967.4" cy="708.0" r="8.2" fill="#00ff00"/><path d="M1104.7,711.3 L1108.6,688.3 L1109.1,686.4 L1112.6,675.4 L1116.5,666.0 L1120.2,658.1 L1120.5,657.5 L1124.4,649.0 L1128.3,641.3 L1130.3,637.9 L1132.3,634.7 L1136.2,629.0 L1140.2,624.1 L1140.4,623.8 L1144.1,619.9 L1148.0,616.4 L1150.6,614.7 L1152.0,613.9 L1155.9,612.0 L1159.8,610.4 L1162.7,609.6 L1163.8,609.3 L1167.7,608.4 L1171.7,607.8 L1174.8,607.6 L1175.6,607.6 L1179.5,607.6 L1183.5,607.7 L1187.4,607.9 L1191.4,608.1 L1195.3,608.3 L1197.1,608.4 L1199.2,608.6 L1203.2,609.4 L1207.1,610.6 L1211.1,612.0 L1215.0,613.5 L1218.9,614.9 L1221.3,615.7 L1222.9,616.2 L1226.8,617.4 L1230.8,618.6 L1234.7,619.8 L1238.6,621.0 L1242.6,622.2 L1246.5,623.6 L1248.4,624.2 L1250.5,624.9 L1254.4,626.4 L1258.3,627.9 L1262.3,629.5 L1266.2,631.1 L1270.1,632.8 L1274.1,634.5 L1278.0,636.2 L1282.0,637.9 L1285.9,639.7 L1289.8,641.4 L1293.8,643.1 L1297.7,644.7 L1301.7,646.4 L1305.6,647.9 L1309.5,649.4 L1313.5,650.8 L1317.4,652.1 L1319.2,652.7 L1321.4,653.4 L1325.3,654.6 L1329.2,655.7 L1333.2,656.8 L1337.1,657.9 L1341.1,659.0 L1345.0,660.1 L1348.9,661.1 L1352.9,662.1 L1356.8,663.1 L1360.8,664.0 L1364.7,665.0 L1368.6,665.9 L1372.6,666.8 L1376.5,667.7 L1380.4,668.6 L1384.4,669.5 L1388.3,670.4 L1392.3,671.3 L1392.4,671.3 L1396.2,672.1 L1400.1,673.0 L1404.1,673.9 L1408.0,674.7 L1412.0,675.6 L1415.9,676.4 L1419.8,677.3 L1423.8,678.1 L1427.7,678.9 L1431.7,679.7 L1435.6,680.4 L1439.5,681.2 L1443.5,681.9 L1447.4,682.7 L1451.4,683.4 L1455.3,684.1 L1459.2,684.7 L1463.2,685.4 L1463.4,685.4 L1467.1,686.0 L1471.1,686.6 L1475.0,687.2 L1478.9,687.8 L1482.9,688.4 L1486.8,689.0 L1490.7,689.5 L1494.7,690.1 L1498.6,690.6 L1502.6,691.1 L1506.5,691.7 L1510.4,692.2 L1514.4,692.6 L1518.3,693.1 L1522.3,693.6 L1526.2,694.0 L1530.1,694.4 L1534.1,694.8 L1536.7,695.1 L1538.0,695.2 L1542.0,695.6 L1545.9,696.0 L1549.8,696.3 L1553.8,696.7 L1557.7,697.0 L1561.7,697.3 L1565.6,697.6 L1569.5,697.9 L1573.5,698.2 L1577.4,698.5 L1581.4,698.8 L1585.3,699.1 L1589.2,699.4 L1593.2,699.6 L1597.1,699.9 L1601.0,700.2 L1605.0,700.4 L1607.5,700.6 L1608.9,700.7 L1612.9,700.9 L1616.8,701.2 L1620.7,701.4 L1624.7,701.7 L1628.6,701.9 L1632.6,702.1 L1636.5,702.4 L1640.4,702.6 L1644.4,702.8 L1648.3,703.0 L1652.3,703.3 L1656.2,703.5 L1660.1,703.7 L1664.1,703.9 L1668.0,704.1 L1672.0,704.3 L1675.9,704.5 L1678.7,704.6 L1679.8,704.7 L1683.8,704.8 L1687.7,705.0 L1691.7,705.2 L1695.6,705.4 L1699.5,705.6 L1703.5,705.8 L1707.4,706.0 L1711.3,706.2 L1715.3,706.3 L1719.2,706.5 L1723.2,706.7 L1727.1,706.8 L1731.0,707.0 L1735.0,707.2 L1738.9,707.3 L1742.9,707.4 L1746.8,707.6 L1750.7,707.7 L1751.7,707.7 L1754.7,707.8 L1758.6,707.9 L1762.6,708.0 L1766.5,708.1 L1770.4,708.2 L1774.4,708.3 L1778.3,708.4 L1782.3,708.5 L1786.2,708.5 L1790.1,708.6 L1794.1,708.7 L1798.0,708.8 L1802.0,708.9 L1805.9,708.9 L1809.8,709.0 L1813.8,709.1 L1817.7,709.1 L1821.6,709.2 L1822.9,709.2 L1825.6,709.2 L1829.5,709.3 L1833.5,709.3 L1837.4,709.4 L1841.3,709.4 L1845.3,709.5 L1849.2,709.5 L1853.2,709.6 L1857.1,709.6 L1861.0,709.7 L1865.0,709.7 L1868.9,709.8 L1872.9,709.8 L1876.8,709.8 L1880.7,709.9 L1884.7,709.9 L1888.6,709.9 L1892.6,710.0 L1895.9,710.0 L1896.5,710.0 L1900.4,710.0 L1904.4,710.1 L1908.3,710.1 L1912.3,710.1 L1916.2,710.2 L1920.1,710.2 L1924.1,710.2 L1928.0,710.3 L1931.9,710.3 L1935.9,710.3 L1939.8,710.3 L1943.8,710.4 L1947.7,710.4 L1951.6,710.4 L1955.6,710.4 L1959.5,710.5 L1963.5,710.5 L1967.4,710.5" stroke="#ff00ff" stroke-width="2.3" fill="none"/><path d="M1173.6,599.1 L1176.0,599.1 L1183.2,614.6 L1183.2,616.1 L1166.4,616.1 L1166.4,614.6Z" fill="#ff00ff"/><path d="M1247.2,615.7 L1249.6,615.7 L1256.8,631.2 L1256.8,632.7 L1240.0,632.7 L1240.0,631.2Z" fill="#ff00ff"/><path d="M1318.0,644.2 L1320.4,644.2 L1327.6,659.7 L1327.6,661.2 L1310.8,661.2 L1310.8,659.7Z" fill="#ff00ff"/><path d="M1391.2,662.8 L1393.6,662.8 L1400.8,678.3 L1400.8,679.8 L1384.0,679.8 L1384.0,678.3Z" fill="#ff00ff"/><path d="M1462.2,676.9 L1464.6,676.9 L1471.8,692.4 L1471.8,693.9 L1455.0,693.9 L1455.0,692.4Z" fill="#ff00ff"/><path d="M1535.5,686.6 L1537.9,686.6 L1545.1,702.1 L1545.1,703.6 L1528.3,703.6 L1528.3,702.1Z" fill="#ff00ff"/><path d="M1606.3,692.1 L1608.7,692.1 L1615.9,707.6 L1615.9,709.1 L1599.1,709.1 L1599.1,707.6Z" fill="#ff00ff"/><path d="M1677.5,696.1 L1679.9,696.1 L1687.1,711.6 L1687.1,713.1 L1670.3,713.1 L1670.3,711.6Z" fill="#ff00ff"/><path d="M1750.5,699.2 L1752.9,699.2 L1760.1,714.7 L1760.1,716.2 L1743.3,716.2 L1743.3,714.7Z" fill="#ff00ff"/><path d="M1821.7,700.7 L1824.1,700.7 L1831.3,716.2 L1831.3,717.7 L1814.5,717.7 L1814.5,716.2Z" fill="#ff00ff"/><path d="M1894.7,701.5 L1897.1,701.5 L1904.3,717.0 L1904.3,718.5 L1887.5,718.5 L1887.5,717.0Z" fill="#ff00ff"/><path d="M1966.2,702.0 L1968.6,702.0 L1975.8,717.5 L1975.8,719.0 L1959.0,719.0 L1959.0,717.5Z" fill="#ff00ff"/><path d="M1104.7,711.3 L1108.6,695.0 L1112.1,684.4 L1112.6,683.3 L1116.5,675.8 L1120.2,670.3 L1120.4,669.9 L1124.4,664.6 L1128.3,660.0 L1130.3,658.1 L1132.3,656.5 L1136.2,653.6 L1140.1,651.2 L1140.4,651.1 L1144.1,649.1 L1148.0,647.2 L1151.9,645.6 L1154.6,645.0 L1155.9,644.8 L1159.8,644.2 L1163.8,643.7 L1167.7,643.3 L1171.6,643.1 L1174.8,643.0 L1175.6,643.0 L1179.5,643.1 L1183.4,643.3 L1187.4,643.7 L1191.0,644.0 L1191.3,644.0 L1195.3,644.6 L1199.2,645.4 L1203.1,646.4 L1207.1,647.6 L1211.0,648.9 L1214.9,650.2 L1218.9,651.4 L1221.3,652.1 L1222.8,652.5 L1226.8,653.7 L1230.7,654.9 L1234.6,656.1 L1238.6,657.3 L1242.5,658.5 L1246.4,659.6 L1248.4,660.2 L1250.4,660.8 L1254.3,661.9 L1258.3,663.0 L1262.2,664.2 L1266.1,665.3 L1270.1,666.3 L1274.0,667.4 L1277.9,668.4 L1281.9,669.3 L1282.0,669.3 L1285.8,670.1 L1289.8,670.9 L1293.7,671.7 L1297.6,672.5 L1301.6,673.2 L1305.5,673.9 L1309.4,674.6 L1313.4,675.3 L1317.3,676.0 L1319.2,676.3 L1321.3,676.7 L1325.2,677.3 L1329.1,678.0 L1333.1,678.6 L1337.0,679.2 L1340.9,679.9 L1344.9,680.5 L1348.8,681.1 L1352.8,681.7 L1356.7,682.4 L1356.8,682.4 L1360.6,683.1 L1364.6,683.8 L1368.5,684.5 L1372.4,685.2 L1376.4,685.9 L1380.3,686.6 L1384.3,687.3 L1388.2,687.9 L1392.1,688.5 L1392.4,688.5 L1396.1,689.0 L1400.0,689.5 L1403.9,690.0 L1407.9,690.4 L1411.8,690.8 L1415.8,691.3 L1419.7,691.7 L1423.6,692.1 L1427.6,692.5 L1427.6,692.5 L1431.5,692.9 L1435.4,693.3 L1439.4,693.8 L1443.3,694.2 L1447.3,694.6 L1451.2,695.0 L1455.1,695.3 L1459.1,695.7 L1463.0,696.0 L1463.4,696.0 L1466.9,696.3 L1470.9,696.5 L1474.8,696.8 L1478.8,697.0 L1482.7,697.2 L1486.6,697.4 L1490.6,697.6 L1494.5,697.9 L1498.4,698.1 L1500.0,698.2 L1502.4,698.4 L1506.3,698.6 L1510.3,698.9 L1514.2,699.1 L1518.1,699.4 L1522.1,699.6 L1526.0,699.9 L1529.9,700.2 L1533.9,700.4 L1536.7,700.6 L1537.8,700.7 L1541.8,700.9 L1545.7,701.2 L1549.6,701.5 L1553.6,701.7 L1557.5,702.0 L1561.4,702.3 L1565.4,702.6 L1569.3,702.8 L1573.3,703.1 L1577.2,703.4 L1581.1,703.6 L1585.1,703.9 L1589.0,704.1 L1592.9,704.4 L1596.9,704.6 L1600.8,704.8 L1604.8,705.1 L1607.5,705.2 L1608.7,705.3 L1612.6,705.5 L1616.6,705.7 L1620.5,705.9 L1624.4,706.0 L1628.4,706.2 L1632.3,706.4 L1636.3,706.6 L1640.2,706.8 L1644.1,707.0 L1648.1,707.1 L1652.0,707.3 L1655.9,707.4 L1659.9,707.6 L1663.8,707.7 L1667.8,707.9 L1671.7,708.0 L1675.6,708.1 L1678.7,708.2 L1679.6,708.2 L1683.5,708.3 L1687.4,708.4 L1691.4,708.5 L1695.3,708.6 L1699.3,708.7 L1703.2,708.8 L1707.1,708.9 L1711.1,709.0 L1715.0,709.1 L1718.9,709.2 L1722.9,709.3 L1726.8,709.3 L1730.8,709.4 L1734.7,709.5 L1738.6,709.5 L1742.6,709.6 L1746.5,709.6 L1750.4,709.7 L1751.7,709.7 L1754.4,709.7 L1758.3,709.8 L1762.3,709.8 L1766.2,709.8 L1770.1,709.9 L1774.1,709.9 L1778.0,709.9 L1781.9,709.9 L1785.9,710.0 L1789.8,710.0 L1793.8,710.0 L1797.7,710.0 L1801.6,710.1 L1805.6,710.1 L1809.5,710.1 L1813.4,710.1 L1817.4,710.1 L1821.3,710.2 L1825.3,710.2 L1829.2,710.2 L1833.1,710.2 L1837.1,710.2 L1841.0,710.3 L1844.9,710.3 L1848.9,710.3 L1850.0,710.3 L1852.8,710.3 L1856.8,710.3 L1860.7,710.4 L1864.6,710.4 L1868.6,710.4 L1872.5,710.4 L1876.4,710.4 L1880.4,710.4 L1884.3,710.5 L1888.3,710.5 L1892.2,710.5 L1896.1,710.5 L1900.1,710.5 L1904.0,710.6 L1907.9,710.6 L1911.9,710.6 L1915.8,710.6 L1919.8,710.6 L1923.7,710.6 L1927.6,710.7 L1931.6,710.7 L1935.5,710.7 L1939.4,710.7 L1943.4,710.7 L1947.3,710.7 L1951.3,710.7 L1955.2,710.8 L1959.1,710.8 L1963.1,710.8 L1967.0,710.8" stroke="#00ffff" stroke-width="2.3" fill="none"/></g>
<rect x="734.9" y="32.2" width="194.1" height="192.2" fill="#fff" stroke="#000" stroke-width="2.5"/><path d="M740.4,56.0 H795.3" stroke="#ff0000" stroke-width="2.8"/><rect x="738.2" y="47.8" width="16.4" height="16.4" fill="#ff0000"/><rect x="759.6" y="47.8" width="16.4" height="16.4" fill="#ff0000"/><rect x="781.1" y="47.8" width="16.4" height="16.4" fill="#ff0000"/><text x="809.95" y="66.50" textLength="24.08" lengthAdjust="spacingAndGlyphs" style='font-family:"Liberation Serif", serif;font-size:38.5px;' fill="#000">P</text><text x="839.41" y="66.90" textLength="27.03" lengthAdjust="spacingAndGlyphs" style='font-family:"Liberation Serif", serif;font-size:38.5px;' fill="#000">=</text><text x="871.66" y="66.50" textLength="20.11" lengthAdjust="spacingAndGlyphs" style='font-family:"Liberation Serif", serif;font-size:38.5px;' fill="#000">5</text><path d="M740.4,103.3 H795.3" stroke="#0000ff" stroke-width="2.8"/><path d="M739.1,103.3 L746.4,95.0 L753.7,103.3 L746.4,111.6Z" fill="#0000ff"/><path d="M760.5,103.3 L767.8,95.0 L775.1,103.3 L767.8,111.6Z" fill="#0000ff"/><path d="M782.0,103.3 L789.3,95.0 L796.6,103.3 L789.3,111.6Z" fill="#0000ff"/><text x="809.95" y="113.80" textLength="24.08" lengthAdjust="spacingAndGlyphs" style='font-family:"Liberation Serif", serif;font-size:38.5px;' fill="#000">P</text><text x="839.41" y="114.20" textLength="27.03" lengthAdjust="spacingAndGlyphs" style='font-family:"Liberation Serif", serif;font-size:38.5px;' fill="#000">=</text><text x="873.08" y="113.80" textLength="38.90" lengthAdjust="spacingAndGlyphs" style='font-family:"Liberation Serif", serif;font-size:38.5px;' fill="#000">10</text><path d="M740.4,150.4 H795.3" stroke="#00ff00" stroke-width="2.8"/><circle cx="746.4" cy="150.4" r="8.2" fill="#00ff00"/><circle cx="767.8" cy="150.4" r="8.2" fill="#00ff00"/><circle cx="789.3" cy="150.4" r="8.2" fill="#00ff00"/><text x="809.95" y="160.90" textLength="24.08" lengthAdjust="spacingAndGlyphs" style='font-family:"Liberation Serif", serif;font-size:38.5px;' fill="#000">P</text><text x="839.41" y="161.30" textLength="27.03" lengthAdjust="spacingAndGlyphs" style='font-family:"Liberation Serif", serif;font-size:38.5px;' fill="#000">=</text><text x="873.18" y="160.90" textLength="37.80" lengthAdjust="spacingAndGlyphs" style='font-family:"Liberation Serif", serif;font-size:38.5px;' fill="#000">15</text><path d="M740.4,198.2 H795.3" stroke="#ff00ff" stroke-width="2.8"/><path d="M745.2,189.7 L747.6,189.7 L754.8,205.2 L754.8,206.7 L738.0,206.7 L738.0,205.2Z" fill="#ff00ff"/><path d="M766.6,189.7 L769.0,189.7 L776.2,205.2 L776.2,206.7 L759.4,206.7 L759.4,205.2Z" fill="#ff00ff"/><path d="M788.1,189.7 L790.5,189.7 L797.7,205.2 L797.7,206.7 L780.9,206.7 L780.9,205.2Z" fill="#ff00ff"/><text x="809.95" y="208.70" textLength="24.08" lengthAdjust="spacingAndGlyphs" style='font-family:"Liberation Serif", serif;font-size:38.5px;' fill="#000">P</text><text x="839.41" y="209.10" textLength="27.03" lengthAdjust="spacingAndGlyphs" style='font-family:"Liberation Serif", serif;font-size:38.5px;' fill="#000">=</text><text x="871.73" y="208.70" textLength="40.31" lengthAdjust="spacingAndGlyphs" style='font-family:"Liberation Serif", serif;font-size:38.5px;' fill="#000">20</text>
<rect x="1752.0" y="34.2" width="194.0" height="190.2" fill="#fff" stroke="#000" stroke-width="2.5"/><path d="M1757.2,57.0 H1812.1000000000001" stroke="#ff0000" stroke-width="2.8"/><rect x="1755.0" y="48.8" width="16.4" height="16.4" fill="#ff0000"/><rect x="1776.4" y="48.8" width="16.4" height="16.4" fill="#ff0000"/><rect x="1797.9" y="48.8" width="16.4" height="16.4" fill="#ff0000"/><text x="1826.65" y="67.50" textLength="24.08" lengthAdjust="spacingAndGlyphs" style='font-family:"Liberation Serif", serif;font-size:38.5px;' fill="#000">P</text><text x="1856.11" y="67.90" textLength="27.03" lengthAdjust="spacingAndGlyphs" style='font-family:"Liberation Serif", serif;font-size:38.5px;' fill="#000">=</text><text x="1888.36" y="67.50" textLength="20.11" lengthAdjust="spacingAndGlyphs" style='font-family:"Liberation Serif", serif;font-size:38.5px;' fill="#000">5</text><path d="M1757.2,104.5 H1812.1000000000001" stroke="#00ff00" stroke-width="2.8"/><circle cx="1763.2" cy="104.5" r="8.2" fill="#00ff00"/><circle cx="1784.6" cy="104.5" r="8.2" fill="#00ff00"/><circle cx="1806.1" cy="104.5" r="8.2" fill="#00ff00"/><text x="1826.65" y="115.00" textLength="24.08" lengthAdjust="spacingAndGlyphs" style='font-family:"Liberation Serif", serif;font-size:38.5px;' fill="#000">P</text><text x="1856.11" y="115.40" textLength="27.03" lengthAdjust="spacingAndGlyphs" style='font-family:"Liberation Serif", serif;font-size:38.5px;' fill="#000">=</text><text x="1889.78" y="115.00" textLength="38.90" lengthAdjust="spacingAndGlyphs" style='font-family:"Liberation Serif", serif;font-size:38.5px;' fill="#000">10</text><path d="M1757.2,151.6 H1812.1000000000001" stroke="#ff00ff" stroke-width="2.8"/><path d="M1762.0,143.1 L1764.4,143.1 L1771.6,158.6 L1771.6,160.1 L1754.8,160.1 L1754.8,158.6Z" fill="#ff00ff"/><path d="M1783.4,143.1 L1785.8,143.1 L1793.0,158.6 L1793.0,160.1 L1776.2,160.1 L1776.2,158.6Z" fill="#ff00ff"/><path d="M1804.9,143.1 L1807.3,143.1 L1814.5,158.6 L1814.5,160.1 L1797.7,160.1 L1797.7,158.6Z" fill="#ff00ff"/><text x="1826.65" y="162.10" textLength="24.08" lengthAdjust="spacingAndGlyphs" style='font-family:"Liberation Serif", serif;font-size:38.5px;' fill="#000">P</text><text x="1856.11" y="162.50" textLength="27.03" lengthAdjust="spacingAndGlyphs" style='font-family:"Liberation Serif", serif;font-size:38.5px;' fill="#000">=</text><text x="1889.88" y="162.10" textLength="37.80" lengthAdjust="spacingAndGlyphs" style='font-family:"Liberation Serif", serif;font-size:38.5px;' fill="#000">15</text><path d="M1755.0,199.10000000000002 H1814.3000000000002" stroke="#00ffff" stroke-width="2.8"/><text x="1826.65" y="209.30" textLength="24.08" lengthAdjust="spacingAndGlyphs" style='font-family:"Liberation Serif", serif;font-size:38.5px;' fill="#000">P</text><text x="1856.11" y="209.70" textLength="27.03" lengthAdjust="spacingAndGlyphs" style='font-family:"Liberation Serif", serif;font-size:38.5px;' fill="#000">=</text><text x="1888.43" y="209.30" textLength="40.31" lengthAdjust="spacingAndGlyphs" style='font-family:"Liberation Serif", serif;font-size:38.5px;' fill="#000">20</text>
<text x="44.39" y="24.20" textLength="36.36" lengthAdjust="spacingAndGlyphs" style='font-family:"Liberation Serif", serif;font-size:32px;' fill="#141a24">0.4</text>
<text x="44.40" y="200.00" textLength="36.13" lengthAdjust="spacingAndGlyphs" style='font-family:"Liberation Serif", serif;font-size:32px;' fill="#141a24">0.3</text>
<text x="44.35" y="375.30" textLength="37.61" lengthAdjust="spacingAndGlyphs" style='font-family:"Liberation Serif", serif;font-size:32px;' fill="#141a24">0.2</text>
<text x="44.35" y="550.90" textLength="37.77" lengthAdjust="spacingAndGlyphs" style='font-family:"Liberation Serif", serif;font-size:32px;' fill="#141a24">0.1</text>
<text x="66.26" y="726.50" textLength="16.28" lengthAdjust="spacingAndGlyphs" style='font-family:"Liberation Serif", serif;font-size:32px;' fill="#141a24">0</text>
<text x="82.76" y="748.30" textLength="16.28" lengthAdjust="spacingAndGlyphs" style='font-family:"Liberation Serif", serif;font-size:32px;' fill="#141a24">0</text>
<text x="368.41" y="748.30" textLength="18.09" lengthAdjust="spacingAndGlyphs" style='font-family:"Liberation Serif", serif;font-size:32px;' fill="#141a24">2</text>
<text x="659.16" y="748.30" textLength="15.36" lengthAdjust="spacingAndGlyphs" style='font-family:"Liberation Serif", serif;font-size:32px;' fill="#141a24">4</text>
<text x="948.55" y="748.30" textLength="16.85" lengthAdjust="spacingAndGlyphs" style='font-family:"Liberation Serif", serif;font-size:32px;' fill="#141a24">6</text>
<text x="512.37" y="795.90" textLength="17.67" lengthAdjust="spacingAndGlyphs" style='font-family:"Liberation Serif", serif;font-size:32px;' fill="#141a24">y</text>
<text x="1063.87" y="26.00" textLength="37.09" lengthAdjust="spacingAndGlyphs" style='font-family:"Liberation Serif", serif;font-size:32px;' fill="#141a24">0.4</text>
<text x="1063.88" y="200.40" textLength="36.88" lengthAdjust="spacingAndGlyphs" style='font-family:"Liberation Serif", serif;font-size:32px;' fill="#141a24">0.3</text>
<text x="1063.83" y="375.00" textLength="38.36" lengthAdjust="spacingAndGlyphs" style='font-family:"Liberation Serif", serif;font-size:32px;' fill="#141a24">0.2</text>
<text x="1063.83" y="549.80" textLength="38.52" lengthAdjust="spacingAndGlyphs" style='font-family:"Liberation Serif", serif;font-size:32px;' fill="#141a24">0.1</text>
<text x="1085.72" y="724.50" textLength="15.36" lengthAdjust="spacingAndGlyphs" style='font-family:"Liberation Serif", serif;font-size:32px;' fill="#141a24">0</text>
<text x="1101.50" y="745.60" textLength="17.11" lengthAdjust="spacingAndGlyphs" style='font-family:"Liberation Serif", serif;font-size:32px;' fill="#141a24">0</text>
<text x="1386.91" y="745.60" textLength="18.09" lengthAdjust="spacingAndGlyphs" style='font-family:"Liberation Serif", serif;font-size:32px;' fill="#141a24">2</text>
<text x="1676.69" y="745.60" textLength="15.49" lengthAdjust="spacingAndGlyphs" style='font-family:"Liberation Serif", serif;font-size:32px;' fill="#141a24">4</text>
<text x="1964.26" y="745.60" textLength="16.74" lengthAdjust="spacingAndGlyphs" style='font-family:"Liberation Serif", serif;font-size:32px;' fill="#141a24">6</text>
<text x="1530.07" y="793.30" textLength="17.46" lengthAdjust="spacingAndGlyphs" style='font-family:"Liberation Serif", serif;font-size:32px;' fill="#141a24">y</text>
<g transform="translate(26.6,416.0) rotate(-90)"><text x="-40.51" y="0" textLength="80.91" lengthAdjust="spacingAndGlyphs" style='font-family:"Liberation Sans", sans-serif;font-size:30.5px' fill="#141a24">u(y,t)</text></g>
<g transform="translate(1031.8,418.4) rotate(-90)"><text x="-40.51" y="0" textLength="80.91" lengthAdjust="spacingAndGlyphs" style='font-family:"Liberation Sans", sans-serif;font-size:30.5px' fill="#141a24">u(y,t)</text></g>
<text x="432.58" y="73.50" textLength="10.84" lengthAdjust="spacingAndGlyphs" style='font-family:"Liberation Sans", sans-serif;font-size:31.2px;' fill="#141a24">t</text><text x="449.62" y="74.70" textLength="20.07" lengthAdjust="spacingAndGlyphs" style='font-family:"Liberation Sans", sans-serif;font-size:31.2px;' fill="#141a24">=</text><text x="474.10" y="73.50" textLength="17.60" lengthAdjust="spacingAndGlyphs" style='font-family:"Liberation Sans", sans-serif;font-size:31.2px;' fill="#141a24">3</text><text x="431.02" y="116.50" textLength="23.30" lengthAdjust="spacingAndGlyphs" style='font-family:"Liberation Sans", sans-serif;font-size:31.2px;' fill="#141a24">G</text><text x="453.29" y="116.50" textLength="12.99" lengthAdjust="spacingAndGlyphs" style='font-family:"Liberation Sans", sans-serif;font-size:31.2px;' fill="#141a24">r</text><text x="470.82" y="117.70" textLength="20.07" lengthAdjust="spacingAndGlyphs" style='font-family:"Liberation Sans", sans-serif;font-size:31.2px;' fill="#141a24">=</text><text x="495.77" y="116.50" textLength="17.13" lengthAdjust="spacingAndGlyphs" style='font-family:"Liberation Sans", sans-serif;font-size:31.2px;' fill="#141a24">5</text><text x="430.88" y="154.60" textLength="19.78" lengthAdjust="spacingAndGlyphs" style='font-family:"Liberation Serif", serif;font-size:34.5px;font-style:italic;' fill="#141a24">η</text><text x="449.82" y="161.60" textLength="14.45" lengthAdjust="spacingAndGlyphs" style='font-family:"Liberation Sans", sans-serif;font-size:24.5px;' fill="#141a24">1</text><text x="470.82" y="165.10" textLength="20.07" lengthAdjust="spacingAndGlyphs" style='font-family:"Liberation Sans", sans-serif;font-size:31.2px;' fill="#141a24">=</text><text x="495.23" y="163.90" textLength="45.26" lengthAdjust="spacingAndGlyphs" style='font-family:"Liberation Sans", sans-serif;font-size:31.2px;' fill="#141a24">0.1</text><text x="431.00" y="206.50" textLength="30.51" lengthAdjust="spacingAndGlyphs" style='font-family:"Liberation Sans", sans-serif;font-size:31.2px;' fill="#141a24">M</text><text x="466.31" y="207.70" textLength="20.19" lengthAdjust="spacingAndGlyphs" style='font-family:"Liberation Sans", sans-serif;font-size:31.2px;' fill="#141a24">=</text><text x="490.74" y="206.50" textLength="44.78" lengthAdjust="spacingAndGlyphs" style='font-family:"Liberation Sans", sans-serif;font-size:31.2px;' fill="#141a24">0.2</text><text x="432.23" y="246.80" textLength="20.62" lengthAdjust="spacingAndGlyphs" style='font-family:"Liberation Serif", serif;font-size:34.5px;font-style:italic;' fill="#141a24">α</text><text x="459.12" y="255.30" textLength="20.07" lengthAdjust="spacingAndGlyphs" style='font-family:"Liberation Sans", sans-serif;font-size:31.2px;' fill="#141a24">=</text><text x="483.53" y="254.10" textLength="45.31" lengthAdjust="spacingAndGlyphs" style='font-family:"Liberation Sans", sans-serif;font-size:31.2px;' fill="#141a24">0.2</text>
<text x="1431.73" y="86.80" textLength="10.84" lengthAdjust="spacingAndGlyphs" style='font-family:"Liberation Sans", sans-serif;font-size:31.2px;' fill="#141a24">t</text><text x="1448.41" y="88.00" textLength="20.19" lengthAdjust="spacingAndGlyphs" style='font-family:"Liberation Sans", sans-serif;font-size:31.2px;' fill="#141a24">=</text><text x="1473.47" y="86.80" textLength="44.74" lengthAdjust="spacingAndGlyphs" style='font-family:"Liberation Sans", sans-serif;font-size:31.2px;' fill="#141a24">3.2</text><text x="1429.92" y="129.50" textLength="23.30" lengthAdjust="spacingAndGlyphs" style='font-family:"Liberation Sans", sans-serif;font-size:31.2px;' fill="#141a24">G</text><text x="1452.19" y="129.50" textLength="12.99" lengthAdjust="spacingAndGlyphs" style='font-family:"Liberation Sans", sans-serif;font-size:31.2px;' fill="#141a24">r</text><text x="1469.72" y="130.70" textLength="20.07" lengthAdjust="spacingAndGlyphs" style='font-family:"Liberation Sans", sans-serif;font-size:31.2px;' fill="#141a24">=</text><text x="1494.68" y="129.50" textLength="17.01" lengthAdjust="spacingAndGlyphs" style='font-family:"Liberation Sans", sans-serif;font-size:31.2px;' fill="#141a24">5</text><text x="1429.78" y="167.30" textLength="19.78" lengthAdjust="spacingAndGlyphs" style='font-family:"Liberation Serif", serif;font-size:34.5px;font-style:italic;' fill="#141a24">η</text><text x="1448.60" y="174.30" textLength="14.58" lengthAdjust="spacingAndGlyphs" style='font-family:"Liberation Sans", sans-serif;font-size:24.5px;' fill="#141a24">1</text><text x="1469.72" y="177.70" textLength="20.07" lengthAdjust="spacingAndGlyphs" style='font-family:"Liberation Sans", sans-serif;font-size:31.2px;' fill="#141a24">=</text><text x="1494.13" y="176.50" textLength="45.26" lengthAdjust="spacingAndGlyphs" style='font-family:"Liberation Sans", sans-serif;font-size:31.2px;' fill="#141a24">0.1</text><text x="1429.78" y="219.00" textLength="30.63" lengthAdjust="spacingAndGlyphs" style='font-family:"Liberation Sans", sans-serif;font-size:31.2px;' fill="#141a24">M</text><text x="1465.22" y="220.20" textLength="20.07" lengthAdjust="spacingAndGlyphs" style='font-family:"Liberation Sans", sans-serif;font-size:31.2px;' fill="#141a24">=</text><text x="1489.64" y="219.00" textLength="44.78" lengthAdjust="spacingAndGlyphs" style='font-family:"Liberation Sans", sans-serif;font-size:31.2px;' fill="#141a24">0.2</text><text x="1430.43" y="259.10" textLength="26.94" lengthAdjust="spacingAndGlyphs" style='font-family:"Liberation Serif", serif;font-size:34.5px;font-style:italic;' fill="#141a24">ω</text><text x="1462.36" y="267.70" textLength="20.79" lengthAdjust="spacingAndGlyphs" style='font-family:"Liberation Sans", sans-serif;font-size:31.2px;' fill="#141a24">=</text><text x="1486.51" y="266.50" textLength="35.23" lengthAdjust="spacingAndGlyphs" style='font-family:"Liberation Sans", sans-serif;font-size:31.2px;' fill="#141a24">20</text><text x="1431.10" y="306.50" textLength="21.13" lengthAdjust="spacingAndGlyphs" style='font-family:"Liberation Serif", serif;font-size:34.5px;font-style:italic;' fill="#141a24">α</text><text x="1457.91" y="315.00" textLength="20.19" lengthAdjust="spacingAndGlyphs" style='font-family:"Liberation Sans", sans-serif;font-size:31.2px;' fill="#141a24">=</text><text x="1482.32" y="313.80" textLength="45.42" lengthAdjust="spacingAndGlyphs" style='font-family:"Liberation Sans", sans-serif;font-size:31.2px;' fill="#141a24">0.2</text>
</svg>
</body></html>
